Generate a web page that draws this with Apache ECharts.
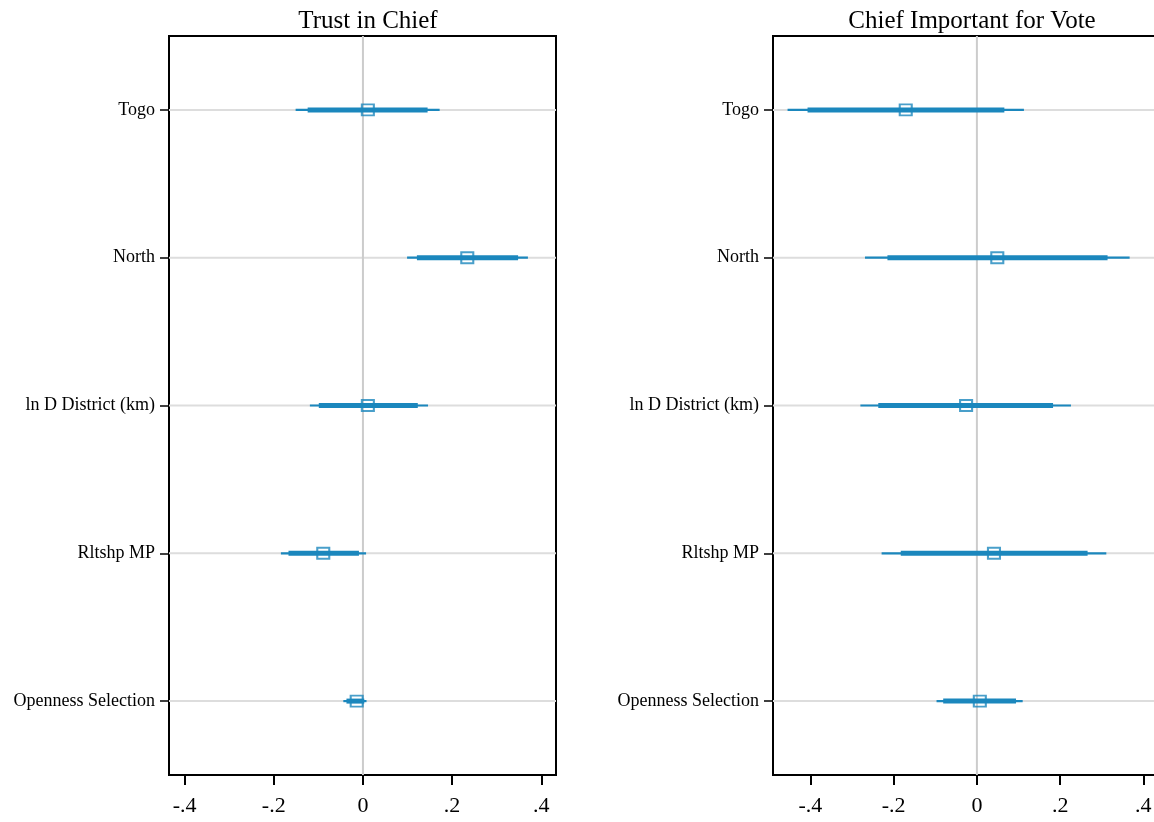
<!DOCTYPE html>
<html>
<head>
<meta charset="utf-8">
<title>Coefficient plots</title>
<script src="https://cdn.jsdelivr.net/npm/echarts@6/dist/echarts.min.js"></script>
<style>
  html, body { margin: 0; padding: 0; background: #fff; overflow: hidden; }
  #chart { width: 1170px; height: 822px; }
</style>
</head>
<body>
<div id="chart"></div>
<script>
// Regressors, top to bottom
const terms = ['Togo', 'North', 'ln D District (km)', 'Rltshp MP', 'Openness Selection'];
const tickValues = [-0.4, -0.2, 0, 0.2, 0.4];

// Trust in Chief: point estimates, 95% (thin) and 90% (thick) intervals
const trustCoef  = [0.011, 0.234, 0.011, -0.089, -0.014];
const trustLo95  = [-0.151, 0.099, -0.119, -0.184, -0.044];
const trustHi95  = [0.172, 0.370, 0.146, 0.007, 0.008];
const trustLo90  = [-0.124, 0.121, -0.099, -0.167, -0.037];
const trustHi90  = [0.145, 0.348, 0.123, -0.009, 0.003];

// Chief Important for Vote
const voteCoef   = [-0.171, 0.049, -0.026, 0.041, 0.007];
const voteLo95   = [-0.455, -0.269, -0.280, -0.229, -0.097];
const voteHi95   = [0.113, 0.367, 0.226, 0.311, 0.110];
const voteLo90   = [-0.407, -0.215, -0.237, -0.183, -0.081];
const voteHi90   = [0.066, 0.314, 0.183, 0.266, 0.094];

const BLUE = '#1b87bd';
const FONT = '"Liberation Serif", "Times New Roman", serif';

function fmtTick(v) {
  if (Math.abs(v) < 1e-9) return '0';
  const s = String(Math.abs(+v.toFixed(2))).replace(/^0\./, '.');
  return (v < 0 ? '-' : '') + s;
}

// horizontal guide at each row
function renderGuide(params, api) {
  const cs = params.coordSys;
  const y = api.coord([0, api.value(0)])[1];
  return {
    type: 'line',
    shape: { x1: cs.x, y1: y, x2: cs.x + cs.width, y2: y },
    style: { stroke: '#dddddd', lineWidth: 2 }
  };
}

// vertical reference line at zero
function renderZero(params, api) {
  const cs = params.coordSys;
  const x0 = api.coord([api.value(0), 1])[0];
  return {
    type: 'line',
    shape: { x1: x0, y1: cs.y, x2: x0, y2: cs.y + cs.height },
    style: { stroke: '#cccccc', lineWidth: 2 }
  };
}

function ciRenderer(width) {
  return function (params, api) {
    const y = api.value(0);
    const a = api.coord([api.value(1), y]);
    const b = api.coord([api.value(2), y]);
    return {
      type: 'line',
      shape: { x1: a[0], y1: a[1], x2: b[0], y2: b[1] },
      style: { stroke: BLUE, lineWidth: width }
    };
  };
}

function rows(lo, hi) { return terms.map((_, i) => [i + 1, lo[i], hi[i]]); }

function panelSeries(idx, coef, lo95, hi95, lo90, hi90) {
  return [
    {
      type: 'custom', xAxisIndex: idx, yAxisIndex: idx, silent: true,
      renderItem: renderGuide, encode: { x: 1, y: 0 },
      data: terms.map((_, i) => [i + 1, 0])
    },
    {
      type: 'custom', xAxisIndex: idx, yAxisIndex: idx, silent: true,
      renderItem: renderZero, encode: { x: 0, y: 1 },
      data: [[0, 3]]
    },
    {
      type: 'custom', xAxisIndex: idx, yAxisIndex: idx, silent: true,
      renderItem: ciRenderer(2.2), encode: { x: [1, 2], y: 0 },
      data: rows(lo95, hi95)
    },
    {
      type: 'custom', xAxisIndex: idx, yAxisIndex: idx, silent: true,
      renderItem: ciRenderer(5), encode: { x: [1, 2], y: 0 },
      data: rows(lo90, hi90)
    },
    {
      type: 'scatter', xAxisIndex: idx, yAxisIndex: idx, silent: true,
      symbol: 'rect', symbolSize: [12, 11],
      itemStyle: { color: 'rgba(0,0,0,0)', borderColor: BLUE, borderWidth: 2 },
      data: coef.map((c, i) => [c, i + 1])
    }
  ];
}

function xAxis(idx, min, max) {
  return {
    type: 'value', gridIndex: idx, min, max,
    axisLine: { show: true, onZero: false, lineStyle: { color: '#000', width: 2 } },
    axisTick: { show: true, customValues: tickValues, length: 10, lineStyle: { color: '#000', width: 2 } },
    axisLabel: { customValues: tickValues, formatter: fmtTick, margin: 20,
                 fontFamily: FONT, fontSize: 22, color: '#000' },
    splitLine: { show: false }
  };
}

function yAxis(idx) {
  const vals = terms.map((_, i) => i + 1);
  return {
    type: 'value', gridIndex: idx, min: 0.5, max: 5.5, inverse: true,
    axisLine: { show: true, onZero: false, lineStyle: { color: '#000', width: 2 } },
    axisTick: { show: true, customValues: vals, length: 9, lineStyle: { color: '#000', width: 1.5 } },
    axisLabel: { customValues: vals, formatter: v => terms[Math.round(v) - 1] || '',
                 margin: 14, fontFamily: FONT, fontSize: 18, color: '#000' },
    splitLine: { show: false }
  };
}

const chart = echarts.init(document.getElementById('chart'), null, { renderer: 'canvas' });
chart.setOption({
  backgroundColor: '#fff',
  animation: false,
  title: [
    { text: 'Trust in Chief', left: 363, top: 4, textAlign: 'center',
      textStyle: { fontFamily: FONT, fontSize: 25, fontWeight: 'normal', color: '#000' } },
    { text: 'Chief Important for Vote', left: 967, top: 4, textAlign: 'center',
      textStyle: { fontFamily: FONT, fontSize: 25, fontWeight: 'normal', color: '#000' } }
  ],
  grid: [
    { left: 169, top: 36, width: 387, height: 739, show: true, borderColor: '#000', borderWidth: 2, backgroundColor: 'transparent' },
    { left: 773, top: 36, width: 387, height: 739, show: true, borderColor: '#000', borderWidth: 2, backgroundColor: 'transparent' }
  ],
  xAxis: [xAxis(0, -0.435, 0.433), xAxis(1, -0.49, 0.44)],
  yAxis: [yAxis(0), yAxis(1)],
  series: [
    ...panelSeries(0, trustCoef, trustLo95, trustHi95, trustLo90, trustHi90),
    ...panelSeries(1, voteCoef, voteLo95, voteHi95, voteLo90, voteHi90)
  ]
});
</script>
</body>
</html>
